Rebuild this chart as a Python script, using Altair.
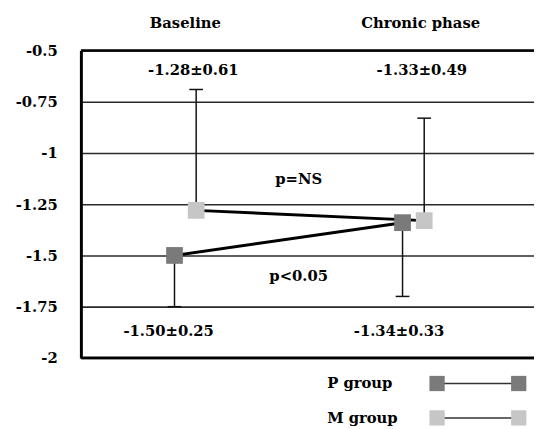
import altair as alt
import pandas as pd

# ---- data ----
phases = ["Baseline", "Chronic phase"]
groups = ["P group", "M group"]
p_mean = [-1.50, -1.34]
p_sd = [0.25, 0.33]
m_mean = [-1.28, -1.33]
m_sd = [0.61, 0.49]
# one-sided error bar ends as drawn in the picture
p_err_end = [-1.75, -1.70]
m_err_end = [-0.69, -0.83]
y_ticks = [-0.5, -0.75, -1, -1.25, -1.5, -1.75, -2]
p_labels = ["p=NS", "p<0.05"]

# ---- layout / style constants ----
X_DOMAIN = [-0.458, 1.529]
Y_DOMAIN = [-2, -0.5]
OFFSET = {"P group": -0.0475, "M group": 0.0475}
CAP_HALF = 0.03
COLORS = {"P group": "#7a7a7a", "M group": "#c6c6c6"}
FONT = "DejaVu Serif"

rows = []
for g, means, sds, ends in [("P group", p_mean, p_sd, p_err_end),
                            ("M group", m_mean, m_sd, m_err_end)]:
    for i, ph in enumerate(phases):
        x = i + OFFSET[g]
        rows.append(dict(group=g, phase=ph, x=x, mean=means[i], sd=sds[i],
                         end=ends[i], cl=x - CAP_HALF, cr=x + CAP_HALF))
pts = pd.DataFrame(rows)

# annotation text positions (x in phase units, y in data units)
ann = pd.DataFrame([
    dict(text=phases[0], x=0.0, y=-0.365),
    dict(text=phases[1], x=1.032, y=-0.365),
    dict(text=f"{m_mean[0]:.2f}±{m_sd[0]:.2f}", x=0.035, y=-0.596),
    dict(text=f"{m_mean[1]:.2f}±{m_sd[1]:.2f}", x=1.037, y=-0.596),
    dict(text=f"{p_mean[0]:.2f}±{p_sd[0]:.2f}", x=-0.073, y=-1.870),
    dict(text=f"{p_mean[1]:.2f}±{p_sd[1]:.2f}", x=0.937, y=-1.870),
    dict(text=p_labels[0], x=0.497, y=-1.125),
    dict(text=p_labels[1], x=0.497, y=-1.601),
])

leg_y = {"P group": -2.125, "M group": -2.293}
leg_lines = pd.DataFrame([dict(group=g, y=leg_y[g], x1=1.104, x2=1.462) for g in groups])
leg_sq = pd.DataFrame([dict(group=g, y=leg_y[g], x=xx) for g in groups for xx in (1.104, 1.462)])
leg_txt = pd.DataFrame([dict(text=g, y=leg_y[g], x=0.622) for g in groups])

xs = alt.Scale(domain=X_DOMAIN, nice=False, zero=False)
ys = alt.Scale(domain=Y_DOMAIN, nice=False, zero=False)
color_scale = alt.Scale(domain=groups, range=[COLORS[g] for g in groups])

yaxis = alt.Axis(values=y_ticks, labelExpr="''+datum.value", grid=True,
                 gridColor="#2a2a2a", gridWidth=1.6, domainColor="black",
                 domainWidth=3, ticks=False, labelPadding=24, labelFont=FONT,
                 labelFontWeight="bold", labelFontSize=15, labelColor="black",
                 title=None)


def Y(field):
    return alt.Y(field, scale=ys, axis=yaxis, title=None)


def X(field):
    return alt.X(field, scale=xs, axis=None)


base = alt.Chart(pts)

border = alt.Chart(pd.DataFrame({"v": [Y_DOMAIN[1], Y_DOMAIN[0]]})).mark_rule(
    color="black", strokeWidth=2.6
).encode(y=Y("v:Q"))

lines = base.mark_line(color="black", strokeWidth=3).encode(
    x=X("x:Q"), y=Y("mean:Q"), detail="group:N",
)

err = base.mark_rule(color="#111", strokeWidth=1.5).encode(
    x=X("x:Q"), y=Y("mean:Q"), y2="end:Q",
)
caps = base.mark_rule(color="#111", strokeWidth=1.5).encode(
    x=X("cl:Q"), x2="cr:Q", y=Y("end:Q"),
)

squares = base.mark_square(size=289, opacity=1, filled=True).encode(
    x=X("x:Q"), y=Y("mean:Q"),
    color=alt.Color("group:N", scale=color_scale, legend=None),
    order=alt.Order("group:N", sort="ascending"),
)

text = alt.Chart(ann).mark_text(font=FONT, fontWeight="bold", fontSize=15,
                                color="black", baseline="middle").encode(
    x=X("x:Q"), y=Y("y:Q"), text="text:N",
)

leg_l = alt.Chart(leg_lines).mark_rule(color="#333", strokeWidth=1.5).encode(
    x=X("x1:Q"), x2="x2:Q", y=Y("y:Q"),
)
leg_s = alt.Chart(leg_sq).mark_square(size=240, opacity=1, filled=True).encode(
    x=X("x:Q"), y=Y("y:Q"),
    color=alt.Color("group:N", scale=color_scale, legend=None),
)
leg_t = alt.Chart(leg_txt).mark_text(font=FONT, fontWeight="bold", fontSize=15,
                                     color="black", align="left",
                                     baseline="middle").encode(
    x=X("x:Q"), y=Y("y:Q"), text="text:N",
)

chart = alt.layer(border, lines, err, caps, squares, text,
                  leg_l, leg_s, leg_t).properties(
    width=460, height=312,
    autosize=alt.AutoSizeParams(type="none"),
    padding={"left": 74, "top": 40, "right": 0, "bottom": 70},
).configure_view(stroke=None)

chart.save("out.html", embed_options={"renderer": "svg", "actions": False})
